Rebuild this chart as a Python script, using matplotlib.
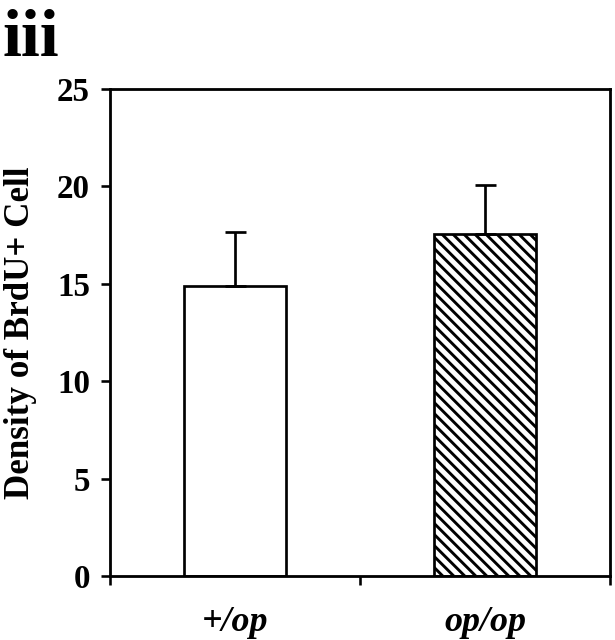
import matplotlib
matplotlib.use("Agg")
import matplotlib.pyplot as plt
import numpy as np
from matplotlib.collections import LineCollection

categories = ["+/op", "op/op"]
means = [14.9, 17.55]
errors = [2.75, 2.5]
hatched = [False, True]
yticks = [0, 5, 10, 15, 20, 25]

DPI = 66
def pt(px):
    return px * 72.0 / DPI

serif = ["Liberation Serif", "DejaVu Serif"]

fig = plt.figure(figsize=(615 / DPI, 640 / DPI), dpi=DPI)
W, H = 615, 640
ax = fig.add_axes([110 / W, 1 - 576 / H, (610 - 110) / W, (576 - 89) / H])

pos = [i + 0.5 for i in range(len(categories))]
bars = ax.bar(pos, means, width=0.41, color="white", edgecolor="black",
              linewidth=pt(2.7), zorder=2)
ax.errorbar(pos, means, yerr=[[0] * len(errors), errors], fmt="none",
            ecolor="black", elinewidth=pt(2.7), capsize=pt(10.5),
            capthick=pt(2.7), zorder=3)

ax.set_xlim(0, len(categories))
ax.set_ylim(0, 25)

# diagonal hatch (top-left to bottom-right), ~11 px spacing
inv = ax.transData.inverted()
for b, h in zip(bars, hatched):
    if not h:
        continue
    bb = b.get_window_extent()
    x0, y0, x1, y1 = bb.x0, bb.y0, bb.x1, bb.y1
    segs = []
    for c in np.arange(x0 + y0 - 2, x1 + y1 + 11, 11.0):
        p = np.array([[c - y1 - 5, y1 + 5], [c - y0 + 5, y0 - 5]])
        segs.append(inv.transform(p))
    lc = LineCollection(segs, colors="black", linewidths=pt(2.9), zorder=2.5)
    ax.add_collection(lc)
    lc.set_clip_path(b)

ax.set_yticks(yticks)
ax.set_yticklabels([str(v) for v in yticks], family=serif,
                   fontweight="bold", fontsize=pt(33))
ax.set_xticks(range(len(categories) + 1))
ax.set_xticklabels([])
ax.set_xticks(pos, minor=True)
ax.set_xticklabels(categories, minor=True, family=serif, fontweight="bold",
                   style="italic", fontsize=pt(36))
ax.tick_params(axis="x", which="minor", length=0, pad=pt(30))
ax.tick_params(axis="x", which="major", direction="out", length=pt(9),
               width=pt(2.6))
ax.tick_params(axis="y", direction="out", length=pt(9), width=pt(2.6),
               pad=pt(11))
for s in ax.spines.values():
    s.set_linewidth(pt(2.8))

ax.set_ylabel("Density of BrdU+ Cell", family=serif, fontweight="bold",
              fontsize=pt(35), labelpad=pt(20))

fig.text(3 / W, 1 - 56 / H, "iii", family=serif, fontweight="bold",
         fontsize=pt(68), ha="left", va="baseline")

fig.savefig("out.png", dpi=DPI, facecolor="white")
